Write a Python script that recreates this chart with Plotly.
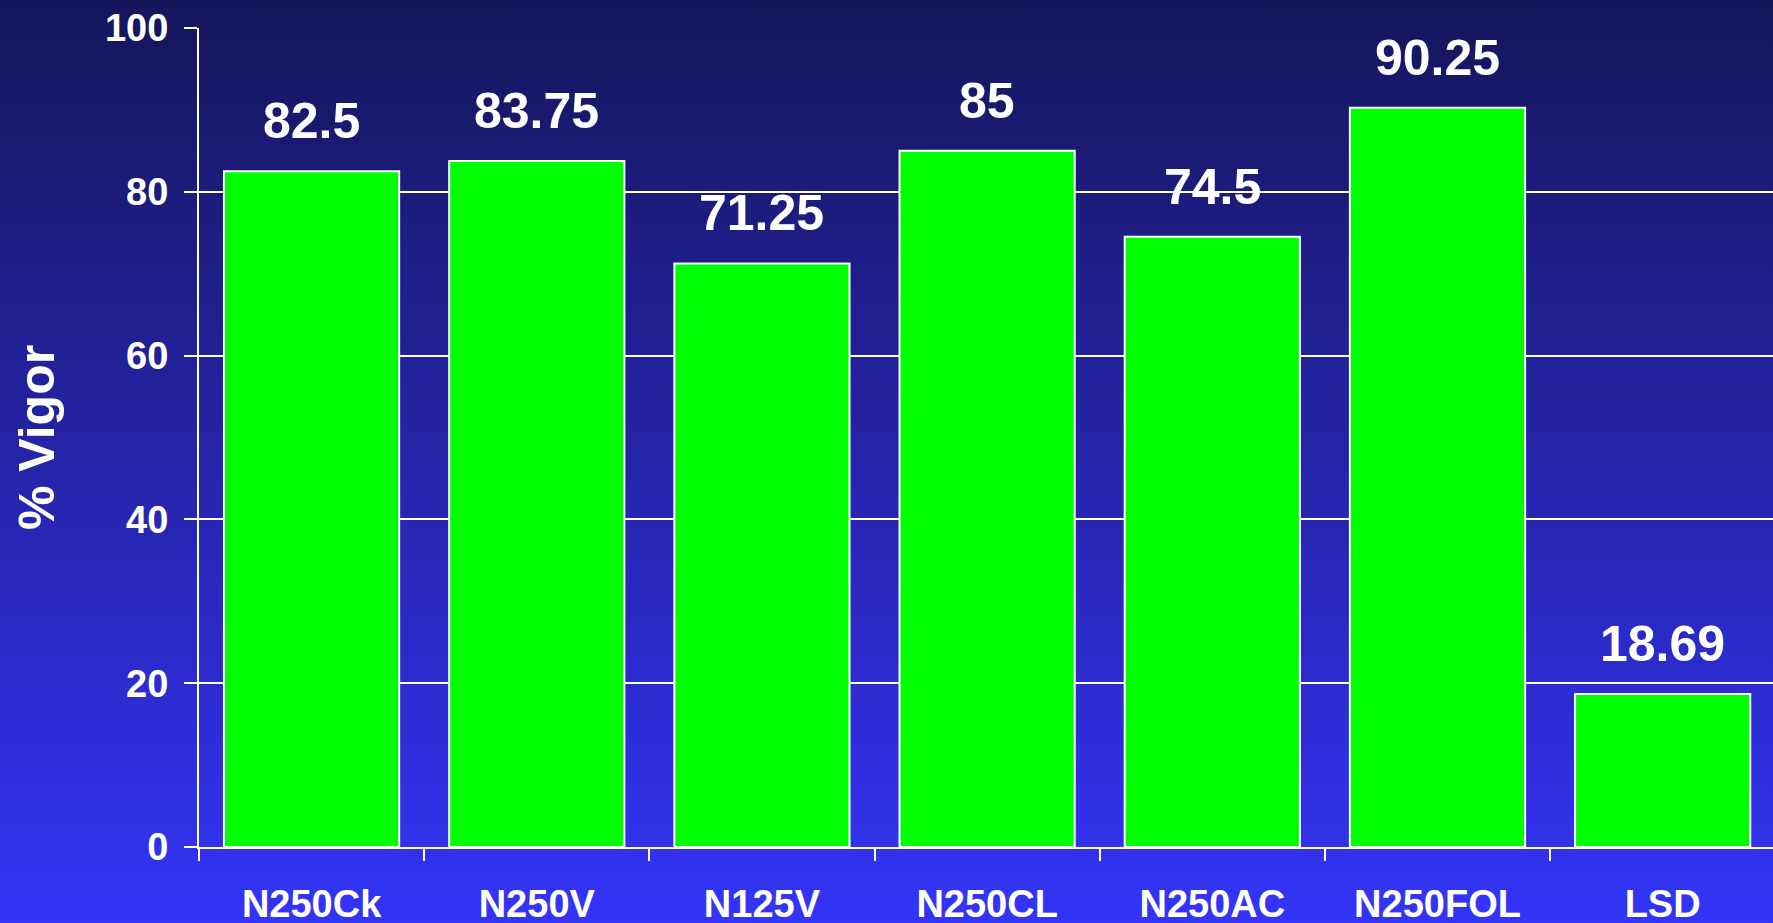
import base64
import plotly.graph_objects as go

categories = ["N250Ck", "N250V", "N125V", "N250CL", "N250AC", "N250FOL", "LSD"]
vigor = [82.5, 83.75, 71.25, 85, 74.5, 90.25, 18.69]
label_text = ["82.5", "83.75", "71.25", "85", "74.5", "90.25", "18.69"]
y_ticks = [0, 20, 40, 60, 80, 100]

W, H = 1773, 923
FONT = "Liberation Sans, Arial, sans-serif"

svg = (
    '<svg xmlns="http://www.w3.org/2000/svg" width="100" height="100" preserveAspectRatio="none">'
    '<defs><linearGradient id="g" x1="0" y1="0" x2="0" y2="1">'
    '<stop offset="0" stop-color="#15155a"/>'
    '<stop offset="1" stop-color="#3434f8"/>'
    '</linearGradient></defs>'
    '<rect width="100" height="100" fill="url(#g)"/></svg>'
)
bg_uri = "data:image/svg+xml;base64," + base64.b64encode(svg.encode()).decode()

fig = go.Figure()
fig.add_trace(go.Bar(
    x=categories, y=vigor,
    marker=dict(color="#00ff00", line=dict(color="white", width=2)),
    hoverinfo="x+y",
))

for c, v, t in zip(categories, vigor, label_text):
    fig.add_annotation(
        x=c, y=v, text=t, showarrow=False, yanchor="bottom", yshift=20,
        font=dict(family=FONT, size=50, color="white", weight="bold"),
    )

fig.update_layout(
    width=W, height=H,
    margin=dict(l=0, r=0, t=0, b=0),
    paper_bgcolor="rgba(0,0,0,0)",
    plot_bgcolor="rgba(0,0,0,0)",
    showlegend=False,
    bargap=0.222,
    font=dict(family=FONT, color="white", weight="bold"),
    images=[dict(
        source=bg_uri, xref="paper", yref="paper", x=0, y=1,
        sizex=1, sizey=1, sizing="stretch", xanchor="left", yanchor="top",
        layer="below",
    )],
    xaxis=dict(
        domain=[199 / W, 1.0],
        range=[-0.5, 6.49],
        showline=True, linecolor="white", linewidth=2,
        ticks="outside", tickson="boundaries", ticklen=12, tickwidth=2, tickcolor="white",
        tickfont=dict(family=FONT, size=38, color="white", weight="bold"),
        ticklabelstandoff=22,
        showgrid=False, automargin=False,
    ),
    yaxis=dict(
        domain=[76 / H, 895 / H],
        range=[0, 100],
        tickvals=y_ticks,
        showline=True, linecolor="white", linewidth=2,
        ticks="outside", ticklen=13, tickwidth=2, tickcolor="white",
        tickfont=dict(family=FONT, size=38, color="white", weight="bold"),
        ticklabelstandoff=8,
        showgrid=True, gridcolor="white", gridwidth=2,
        zeroline=False, automargin=False,
        title=dict(text="% Vigor", standoff=34,
                   font=dict(family=FONT, size=50, color="white", weight="bold")),
    ),
)

fig.write_html(
    "out.html",
    config={"displayModeBar": False},
    post_script="document.body.style.margin='0';document.body.style.overflow='hidden';",
)
